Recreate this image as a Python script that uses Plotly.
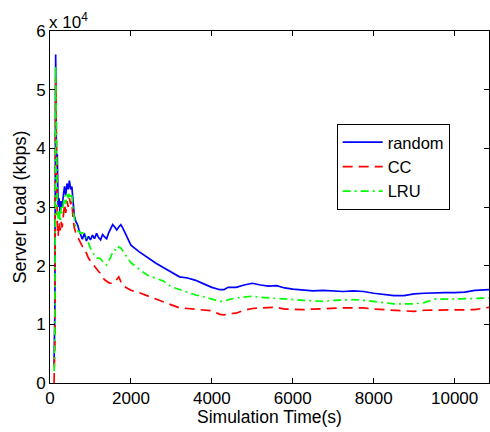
import plotly.graph_objects as go

time_s = [100, 120, 140, 160, 180, 200, 225, 250, 275, 300, 330, 360, 390, 420, 450, 480,
          510, 540, 570, 600, 640, 680, 720, 760, 800, 850, 900, 950, 1000, 1050, 1100,
          1150, 1200, 1250, 1300, 1350, 1400, 1450, 1500, 1550, 1600, 1650, 1700, 1750,
          1800, 1900, 2000, 2200, 2400, 2600, 2800, 3000, 3200, 3400, 3600, 3800, 4000,
          4200, 4300, 4400, 4600, 4800, 5000, 5200, 5400, 5600, 5800, 6000, 6250, 6500,
          6750, 7000, 7250, 7500, 7750, 8000, 8250, 8500, 8750, 9000, 9250, 9500, 9750,
          10000, 10250, 10500, 10850]

random_load = [3000, 12000, 56000, 38000, 39000, 30000, 31500, 29000, 31000, 30000, 32000,
               33500, 32000, 34000, 33000, 34500, 33000, 33500, 31000, 28500, 27500, 27000,
               26000, 25200, 24500, 25500, 24200, 25000, 24400, 25200, 24600, 25500, 24800,
               24400, 25300, 24900, 24600, 25600, 26300, 27000, 26600, 26100, 26600, 27000,
               26400, 24900, 23500, 22400, 21400, 20500, 19700, 18900, 18100, 17900, 17500,
               16900, 16300, 15900, 15900, 16300, 16300, 16700, 17000, 16700, 16500, 16600,
               16200, 16000, 15900, 15700, 15800, 15700, 15600, 15700, 15600, 15300, 15100,
               14900, 14900, 15200, 15300, 15400, 15400, 15400, 15500, 15800, 15900]

cc_load = [0, 7000, 52000, 30000, 27000, 25000, 27500, 26000, 27500, 26500, 29000, 30500,
           29000, 31000, 30000, 31500, 30500, 31000, 28000, 26500, 25500, 25000, 24300,
           23800, 23300, 23000, 22000, 21300, 20800, 20300, 20000, 19500, 19000, 18700,
           18000, 17600, 17300, 17100, 17000, 17000, 17200, 17600, 18100, 17300, 16600,
           16200, 15800, 15400, 14900, 14400, 13800, 13300, 12800, 12700, 12600, 12500,
           12300, 11700, 11600, 11800, 11900, 12400, 12700, 12800, 12800, 12900, 12600,
           12500, 12500, 12600, 12700, 12700, 12800, 12800, 12800, 12600, 12500, 12300,
           12200, 12200, 12400, 12400, 12400, 12400, 12400, 12500, 12900]

lru_load = [2000, 9000, 54000, 36000, 30000, 28000, 29500, 27500, 30000, 29000, 31000,
            32000, 30500, 32500, 31500, 32500, 31500, 32000, 29500, 28000, 26500, 26000,
            25800, 25500, 25600, 25400, 24800, 23800, 23000, 22300, 21800, 21300, 21300,
            21200, 20700, 20300, 20100, 20700, 21500, 22300, 22700, 22500, 23200, 23000,
            22500, 21500, 20500, 19400, 18400, 17900, 17400, 16400, 15900, 15500, 15000,
            14700, 14300, 13900, 13900, 14200, 14500, 14700, 14800, 14600, 14500, 14400,
            14300, 14100, 14100, 14000, 13900, 14100, 14200, 14200, 14100, 13900, 13700,
            13500, 13500, 13500, 13700, 14300, 14300, 14300, 14300, 14400, 14500]

x_ticks = [0, 2000, 4000, 6000, 8000, 10000]
x_tick_labels = ["0", "2000", "4000", "6000", "8000", "10000"]
y_ticks = [0, 10000, 20000, 30000, 40000, 50000, 60000]
y_tick_labels = ["0", "1", "2", "3", "4", "5", "6"]

FONT = "Liberation Sans, Arial, sans-serif"

fig = go.Figure()
fig.add_trace(go.Scatter(x=time_s, y=random_load, mode="lines", name="random",
                         line=dict(color="#0000FF", width=1.7, dash="solid")))
fig.add_trace(go.Scatter(x=time_s, y=cc_load, mode="lines", name="CC",
                         line=dict(color="#FF0000", width=1.7, dash="10px,6px")))
fig.add_trace(go.Scatter(x=time_s, y=lru_load, mode="lines", name="LRU",
                         line=dict(color="#00FF00", width=1.7, dash="8px,4px,2px,4px")))

axis_common = dict(showline=True, linecolor="black", linewidth=1, mirror="ticks",
                   ticks="inside", ticklen=5, tickcolor="black", showgrid=False,
                   zeroline=False, automargin=False,
                   tickfont=dict(family=FONT, size=17, color="black"))

fig.update_xaxes(range=[0, 10850], tickvals=x_ticks, ticktext=x_tick_labels, **axis_common)
fig.update_yaxes(range=[0, 60000], tickvals=y_ticks, ticktext=y_tick_labels,
                 title=dict(text="Server Load (kbps)", font=dict(family=FONT, size=18, color="black"),
                            standoff=4),
                 **axis_common)

# x-axis title
fig.add_annotation(text="Simulation Time(s)", xref="paper", yref="paper", x=0.5, y=0,
                   xanchor="center", yanchor="middle", yshift=-33.5, showarrow=False,
                   font=dict(family=FONT, size=17.5, color="black"))

# exponent label
fig.add_annotation(text="x 10<sup>4</sup>", xref="paper", yref="paper", x=0, y=1,
                   xanchor="left", yanchor="bottom", showarrow=False, yshift=-3, xshift=-3,
                   font=dict(family=FONT, size=17, color="black"))

fig.update_layout(
    width=490, height=432,
    margin=dict(l=50, r=1, t=31, b=49),
    paper_bgcolor="white", plot_bgcolor="white",
    showlegend=True,
    legend=dict(x=0.653, y=0.736, xanchor="left", yanchor="top",
                bgcolor="white", bordercolor="black", borderwidth=1,
                font=dict(family=FONT, size=16.5, color="black"),
                tracegroupgap=0, itemwidth=40),
)

fig.write_html("out.html", config={"displayModeBar": False},
               post_script="document.body.style.margin='0';document.body.style.overflow='hidden';")
